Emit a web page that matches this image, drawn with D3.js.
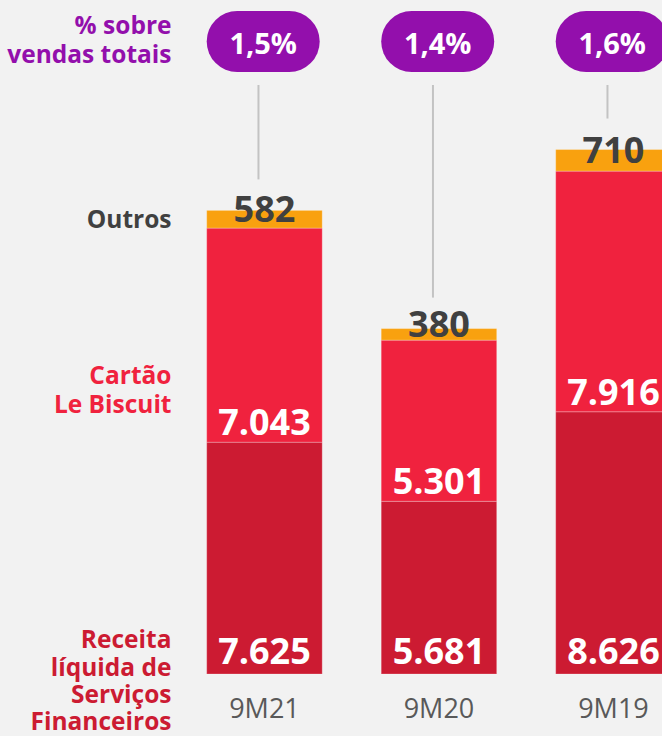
<!DOCTYPE html>
<html><head><meta charset="utf-8">
<script src="https://cdn.jsdelivr.net/npm/d3@7"></script>
<style>
html,body{margin:0;padding:0;background:#f2f2f2;}
svg{display:block;font-family:"Open Sans","Noto Sans",sans-serif;}
</style></head>
<body>
<svg id="chart" width="662" height="736"></svg>
<script>
const categories = ["9M21", "9M20", "9M19"];
const servicos = [7625, 5681, 8626];
const cartao = [7043, 5301, 7916];
const outros = [582, 380, 710];
const pctLabels = ["1,5%", "1,4%", "1,6%"];
const seriesNames = ["Receita líquida de Serviços Financeiros", "Cartão Le Biscuit", "Outros"];

const W = 662, H = 736;
const svg = d3.select("#chart");
svg.append("rect").attr("width", W).attr("height", H).attr("fill", "#f2f2f2");

const baseY = 674, pxPerUnit = 0.0304, yMax = 22000;
const y = d3.scaleLinear().domain([0, yMax]).range([baseY, baseY - yMax * pxPerUnit]);
const step = 174.5, x0 = 206.7, pIn = 0.338;
const x = d3.scaleBand().domain(categories).range([x0, x0 + step * (3 - pIn)]).paddingInner(pIn).paddingOuter(0);

const loc = d3.formatLocale({decimal: ",", thousands: ".", grouping: [3], currency: ["R$", ""]});
const fmt = loc.format(",d");

const rows = categories.map((c, i) => ({cat: c, servicos: servicos[i], cartao: cartao[i], outros: outros[i], pct: pctLabels[i]}));
const keys = ["servicos", "cartao", "outros"];
const colors = {servicos: "#cc1b32", cartao: "#f0223e", outros: "#f9a10f"};
const stack = d3.stack().keys(keys)(rows);

// bars
const g = svg.append("g");
stack.forEach(layer => {
  g.selectAll(null).data(layer).enter().append("rect")
    .attr("x", d => x(d.data.cat))
    .attr("width", x.bandwidth())
    .attr("y", d => y(d[1]))
    .attr("height", d => y(d[0]) - y(d[1]))
    .attr("fill", colors[layer.key])
    .attr("stroke", "rgba(255,255,255,0.25)")
    .attr("stroke-width", 1);
});

// value labels
const labG = svg.append("g").attr("text-anchor", "middle").attr("font-weight", 700).attr("font-size", 36);
rows.forEach(r => {
  const cx = x(r.cat) + x.bandwidth() / 2;
  labG.append("text").attr("x", cx).attr("y", y(0) - 10).attr("fill", "#fff").text(fmt(r.servicos));
  labG.append("text").attr("x", cx).attr("y", y(r.servicos) - 7).attr("fill", "#fff").text(fmt(r.cartao));
  const t = r.servicos + r.cartao;
  const segMid = (y(t) + y(t + r.outros)) / 2;
  labG.append("text").attr("x", cx).attr("y", segMid + 3).attr("fill", "#404040").text(fmt(r.outros));
});

// connector lines and pills
const pillW = 113;
rows.forEach(r => {
  const cx = x(r.cat) + x.bandwidth() / 2;
  const top = y(r.servicos + r.cartao + r.outros);
  svg.append("line").attr("x1", cx - 6).attr("x2", cx - 6).attr("y1", 85).attr("y2", top - 31)
    .attr("stroke", "#c3c3c3").attr("stroke-width", 2);
  svg.append("rect").attr("x", x(r.cat)).attr("y", 11).attr("width", pillW).attr("height", 61)
    .attr("rx", 30.5).attr("ry", 30.5).attr("fill", "#930fac");
  svg.append("text").attr("x", x(r.cat) + pillW / 2).attr("y", 53.5).attr("text-anchor", "middle")
    .attr("font-weight", 700).attr("font-size", 29).attr("fill", "#fff").text(r.pct);
});

// x axis labels
const xAxis = d3.axisBottom(x).tickSize(0).tickPadding(0);
const ax = svg.append("g").attr("transform", `translate(0,${baseY})`).call(xAxis);
ax.select(".domain").remove();
ax.selectAll("text").attr("font-family", "Open Sans").attr("font-size", 27).attr("fill", "#595959")
  .attr("dy", null).attr("y", 44);

// left legend labels
const leg = svg.append("g").attr("text-anchor", "end").attr("font-weight", 700).attr("font-size", 24.5);
function lines(arr, ys, color) {
  arr.forEach((t, i) => leg.append("text").attr("x", 171.5).attr("y", ys[i]).attr("fill", color).text(t));
}
lines(["% sobre", "vendas totais"], [34, 62.5], "#930fac");
lines(["Outros"], [227.5], "#404040");
lines(["Cartão", "Le Biscuit"], [384, 413], "#f0223e");
lines(["Receita", "líquida de", "Serviços", "Financeiros"], [648, 675.5, 703, 730], "#cc1b32");
</script>
</body></html>
